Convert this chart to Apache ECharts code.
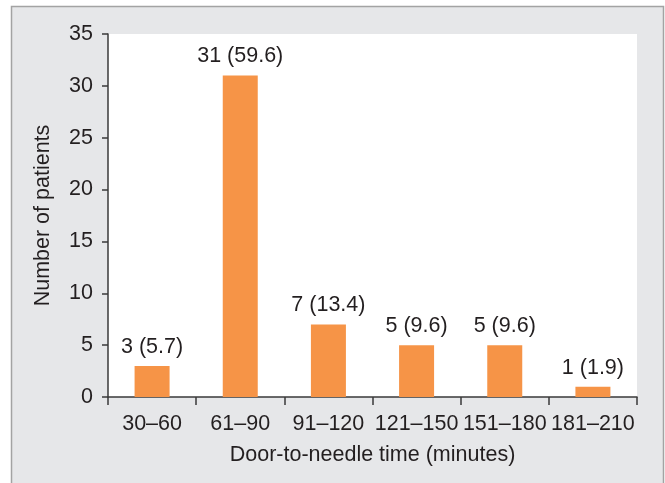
<!DOCTYPE html>
<html><head><meta charset="utf-8">
<script src="https://cdn.jsdelivr.net/npm/echarts@6/dist/echarts.min.js"></script>
<style>html,body{margin:0;padding:0;background:#fff}#c{width:665px;height:483px}</style>
</head><body><div id="c"></div>
<script>
const categories = ['30–60','61–90','91–120','121–150','151–180','181–210'];
const patients = [3,31,7,5,5,1];
const percents = ['5.7','59.6','13.4','9.6','9.6','1.9'];
const yTicks = [0,5,10,15,20,25,30,35];

const chart = echarts.init(document.getElementById('c'), null, {renderer:'canvas'});
const font = 'Liberation Sans, Arial, sans-serif';
const txt = '#231f20';
const fs = 21.5;
chart.setOption({
  animation:false,
  backgroundColor:'#ffffff',
  graphic:[{type:'rect', z:-10, shape:{x:11.5,y:6.5,width:652,height:490}, style:{fill:'#e6e7e9', stroke:'#a3a3a3', lineWidth:1.5}}],
  grid:{left:108, top:34, right:28, bottom:86, show:true, backgroundColor:'#ffffff', borderWidth:0},
  xAxis:{type:'category', data:categories,
    axisLine:{lineStyle:{color:'#3a3a3a', width:1.5}},
    axisTick:{show:true, length:8, inside:false, lineStyle:{color:'#3a3a3a', width:1.5}},
    axisLabel:{color:txt, fontSize:fs, fontFamily:font, margin:16, interval:0},
    name:'Door-to-needle time (minutes)', nameLocation:'middle', nameGap:47,
    nameTextStyle:{color:txt, fontSize:fs, fontFamily:font}},
  yAxis:{type:'value', min:0, max:35, interval:5,
    axisLine:{show:true, lineStyle:{color:'#3a3a3a', width:1.5}},
    axisTick:{show:true, length:6, lineStyle:{color:'#3a3a3a', width:1.5}},
    splitLine:{show:false},
    axisLabel:{color:txt, fontSize:fs, fontFamily:font, margin:15},
    name:'Number of patients', nameLocation:'middle', nameGap:54,
    nameTextStyle:{color:txt, fontSize:fs, fontFamily:font}},
  series:[{type:'bar', data:patients, barWidth:35,
    itemStyle:{color:'#f69447'},
    label:{show:true, position:'top', distance:8, color:txt, fontSize:fs, fontFamily:font,
      formatter:p=>p.value+' ('+percents[p.dataIndex]+')'}}]
});
</script></body></html>
